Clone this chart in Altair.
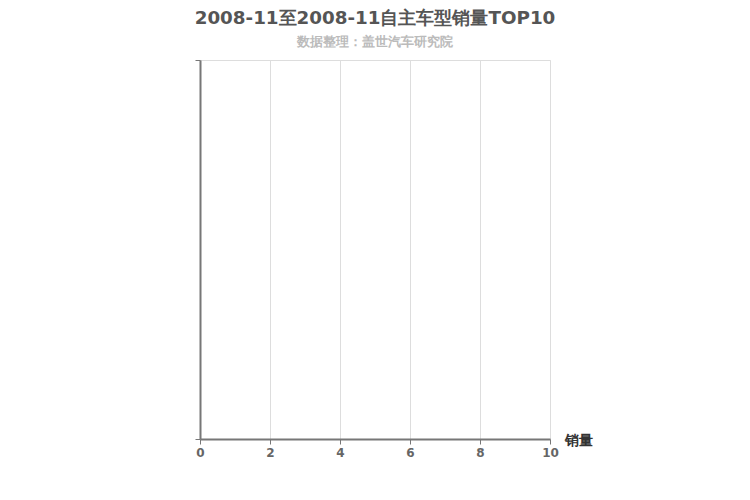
import altair as alt
import pandas as pd

# No vehicle data is shown in the reference chart (empty TOP10)
models = []
sales = []

title_text = "2008-11至2008-11自主车型销量TOP10"
subtitle_text = "数据整理：盖世汽车研究院"
x_ticks = [0, 2, 4, 6, 8, 10]

df = pd.DataFrame({"车型": pd.Series(models, dtype="object"),
                   "销量": pd.Series(sales, dtype="float")})

FONT = "DejaVu Sans"

x_enc = alt.X("销量:Q",
              scale=alt.Scale(domain=[0, 10], nice=False),
              axis=alt.Axis(values=x_ticks, title="销量", grid=True,
                            gridColor="#dddddd", gridWidth=1,
                            domainColor="#777777", domainWidth=2,
                            tickColor="#777777", tickSize=5,
                            labelColor="#666666", labelFontSize=12,
                            labelFontWeight="bold", labelFont=FONT,
                            labelPadding=3, labelFlush=False,
                            titleFont=FONT, titleFontSize=14, titleFontWeight="bold",
                            titleColor="#333333", titleX=364, titleY=1,
                            titleAlign="left", titleBaseline="middle"))

bars = alt.Chart(df).mark_bar(color="#5b9bd5").encode(
    x=x_enc,
    y=alt.Y("车型:N", sort=None, axis=None)
)

yaxis = alt.Chart(df).mark_point(opacity=0).encode(
    x=x_enc,
    y=alt.Y("销量:Q", scale=alt.Scale(domain=[0, 1], nice=False),
            axis=alt.Axis(title=None, labels=False, values=[0, 1], grid=False,
                          domainColor="#777777", domainWidth=2,
                          tickColor="#777777", tickSize=5))
)

chart = alt.layer(bars, yaxis).resolve_scale(y="independent").properties(
    width=350, height=379,
    title=alt.TitleParams(text=title_text, subtitle=subtitle_text,
                          anchor="middle", font=FONT, fontSize=18.3,
                          fontWeight="bold", color="#555555",
                          subtitleFont=FONT, subtitleFontSize=13,
                          subtitleFontWeight="bold", subtitleColor="#bbbbbb",
                          subtitlePadding=7, offset=10),
    autosize=alt.AutoSizeParams(type="pad"),
    padding={"left": 186, "top": 1, "right": 10, "bottom": 10},
    background="white"
).configure_view(stroke="#dddddd", strokeWidth=1)

chart.save("out.html", embed_options={"renderer": "svg", "actions": False})
